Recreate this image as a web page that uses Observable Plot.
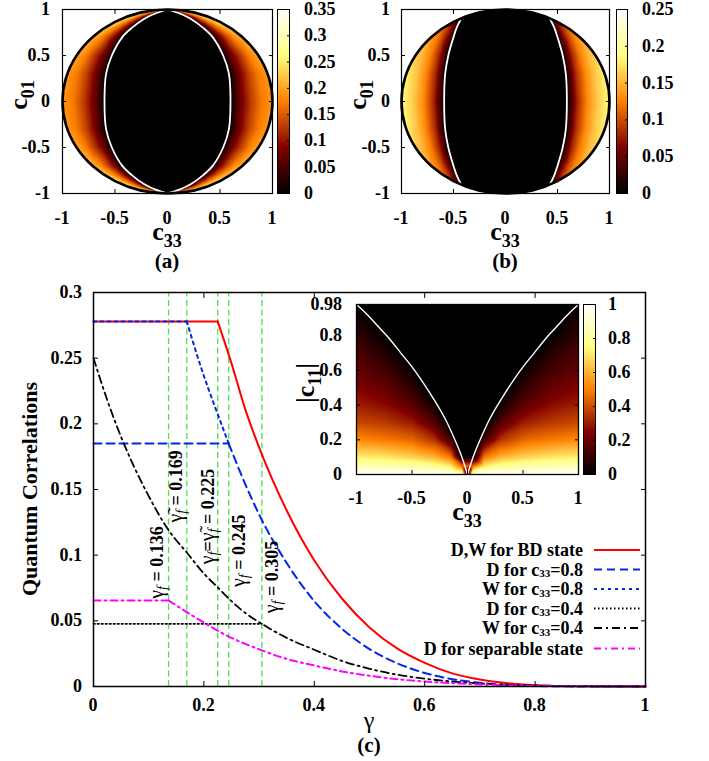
<!DOCTYPE html>
<html>
<head>
<meta charset="utf-8">
<script src="https://cdn.jsdelivr.net/npm/d3@7"></script>
<script src="https://cdn.jsdelivr.net/npm/@observablehq/plot@0.6"></script>
<style>
  html, body { margin: 0; padding: 0; background: #fff; }
  #root { position: relative; width: 709px; height: 761px; background: #fff; overflow: hidden; }
  #root > svg { position: absolute; }
</style>
</head>
<body>
<div id="root"></div>
<script>
// ================= DATA =================
// Panel (c): quantum correlations vs gamma, pairs [gamma, value]
const dwBD = [[0,0.278],[0.225,0.278],[0.25,0.246],[0.275,0.211],[0.3,0.182],[0.35,0.134],[0.4,0.096],[0.45,0.067],[0.5,0.045],[0.55,0.029],[0.6,0.018],[0.65,0.010],[0.7,0.0053],[0.75,0.0025],[0.8,0.001],[0.85,0.0003],[0.9,0.0001],[1,0]];
const dC08 = [[0,0.185],[0.245,0.185],[0.275,0.154],[0.3,0.131],[0.35,0.094],[0.4,0.065],[0.45,0.044],[0.5,0.0285],[0.55,0.0177],[0.6,0.0103],[0.65,0.0056],[0.7,0.0028],[0.75,0.0012],[0.8,0.0004],[0.9,0.00002],[1,0]];
const wC08 = [[0,0.278],[0.169,0.278],[0.194,0.244],[0.22,0.213],[0.245,0.185]];
const dC04 = [[0,0.0477],[0.305,0.0477]];
const wC04 = [[0,0.25],[0.025,0.218],[0.05,0.19],[0.075,0.166],[0.1,0.145],[0.136,0.119],[0.169,0.102],[0.2,0.086],[0.225,0.0755],[0.245,0.067],[0.275,0.056],[0.305,0.0477],[0.35,0.037],[0.4,0.028],[0.45,0.0195],[0.5,0.0135],[0.55,0.009],[0.6,0.006],[0.65,0.0038],[0.7,0.0023],[0.8,0.0008],[0.9,0.0002],[1,0]];
const dSep = [[0,0.0655],[0.136,0.0655],[0.15,0.0617],[0.169,0.0566],[0.2,0.0487],[0.225,0.0425],[0.25,0.037],[0.275,0.0325],[0.305,0.0275],[0.35,0.021],[0.4,0.016],[0.45,0.0115],[0.5,0.0082],[0.55,0.0056],[0.6,0.0038],[0.7,0.0016],[0.8,0.0005],[0.9,0.0001],[1,0]];
const gammaF = [0.136, 0.169, 0.225, 0.245, 0.305];
const gammaFForm = ["plain", "tilde", "both", "plain", "plain"];
const xTicksC = [0, 0.2, 0.4, 0.6, 0.8, 1];
const yTicksC = [0, 0.05, 0.1, 0.15, 0.2, 0.25, 0.3];
const legendLabels = [
  [["D,W for BD state"]],
  [["D for c"], ["33", "sub"], ["=0.8"]],
  [["W for c"], ["33", "sub"], ["=0.8"]],
  [["D for c"], ["33", "sub"], ["=0.4"]],
  [["W for c"], ["33", "sub"], ["=0.4"]],
  [["D for separable state"]]
];

// Panel (a): rows of c01, sample c33 positions (white boundary -> rim) and values
const aRowC01 = [0, 0.3, 0.5, 0.7, 0.8, 0.9, 0.95, 0.98];
const aRowC33 = [
  [0.6, 0.7, 0.8, 0.9, 1.0],
  [0.585, 0.68, 0.77, 0.86, 0.954],
  [0.53, 0.61, 0.70, 0.78, 0.866],
  [0.43, 0.50, 0.57, 0.64, 0.714],
  [0.34, 0.405, 0.47, 0.535, 0.6],
  [0.22, 0.274, 0.328, 0.382, 0.436],
  [0.13, 0.175, 0.221, 0.266, 0.312],
  [0.06, 0.095, 0.13, 0.165, 0.199]
];
const aRowVal = [
  [0, 0.075, 0.13, 0.17, 0.19],
  [0, 0.075, 0.13, 0.17, 0.19],
  [0, 0.075, 0.13, 0.175, 0.2],
  [0, 0.08, 0.14, 0.185, 0.21],
  [0, 0.09, 0.155, 0.2, 0.23],
  [0, 0.1, 0.17, 0.22, 0.25],
  [0, 0.11, 0.18, 0.23, 0.265],
  [0, 0.12, 0.2, 0.25, 0.28]
];
const aZeros = [[0, 1], [0, 0], [0, 0.5]];
const aBarTicks = [0, 0.05, 0.1, 0.15, 0.2, 0.25, 0.3, 0.35];

// Panel (b)
const bRowC01 = [0, 0.3, 0.5, 0.7, 0.8, 0.905];
const bRowC33 = [
  [0.59, 0.69, 0.79, 0.9, 1.0],
  [0.58, 0.67, 0.77, 0.86, 0.954],
  [0.55, 0.63, 0.71, 0.79, 0.866],
  [0.5, 0.55, 0.61, 0.66, 0.714],
  [0.47, 0.5, 0.535, 0.57, 0.6],
  [0.425]
];
const bRowVal = [
  [0, 0.08, 0.13, 0.165, 0.185],
  [0, 0.08, 0.13, 0.16, 0.18],
  [0, 0.075, 0.12, 0.15, 0.165],
  [0, 0.06, 0.1, 0.125, 0.14],
  [0, 0.05, 0.08, 0.1, 0.115],
  [0]
];
const bZeros = [[0, 1], [0, 0], [0, 0.6], [0.2, 0.98], [0.3, 0.95]];
const bBarTicks = [0, 0.05, 0.1, 0.15, 0.2, 0.25];

// Rim of the allowed region (c33^2 + c01^2 = 1), upper half
const rimC33 = [-1, -0.966, -0.866, -0.707, -0.5, -0.259, 0, 0.259, 0.5, 0.707, 0.866, 0.966, 1];
const rimC01 = [0, 0.259, 0.5, 0.707, 0.866, 0.966, 1, 0.966, 0.866, 0.707, 0.5, 0.259, 0];
const pmTicks = [-1, -0.5, 0, 0.5, 1];

// Inset: |c11| vs c33
const insetC33 = [0.05, 0.15, 0.3, 0.5, 0.75, 1];
const insetC11 = [0, 0.05, 0.1, 0.2, 0.3, 0.4, 0.5, 0.6, 0.7, 0.8, 0.9, 0.98];
const insetVals = [
  [0.95, 0.45],
  [1, 0.7, 0.48, 0.13],
  [1, 0.78, 0.6, 0.35, 0.16, 0.03],
  [1, 0.82, 0.66, 0.45, 0.3, 0.18, 0.09, 0.02],
  [1, 0.84, 0.7, 0.49, 0.36, 0.27, 0.2, 0.13, 0.07, 0.01],
  [1, 0.85, 0.72, 0.52, 0.39, 0.31, 0.25, 0.2, 0.15, 0.1, 0.05, 0]
];
const insetBoundary = [[0,0],[0.05,0.1],[0.1,0.18],[0.2,0.32],[0.3,0.43],[0.4,0.53],[0.5,0.62],[0.6,0.7],[0.7,0.78],[0.8,0.85],[0.9,0.92],[1,0.98]];
const insetZeros = [[0, 0.5], [0, 0.98], [0.5, 0.98]];
const insetYTicks = [0, 0.2, 0.4, 0.6, 0.8, 0.98];
const insetBarTicks = [0, 0.2, 0.4, 0.6, 0.8, 1];

// ================= RENDERING =================
const FONT = "'Liberation Serif','Times New Roman',serif";
const STYLE = {fontFamily: FONT, fontSize: "18px", background: "transparent", color: "black", overflow: "visible"};
const HOT = ["#000000", "#800000", "#ff8000", "#ffff80", "#ffffff"];
const hot = (m) => ({type: "linear", domain: [0, m / 4, m / 2, 3 * m / 4, m], range: HOT, clamp: true});
const root = document.getElementById("root");

// text overlay (bold serif texts, sub/superscripts)
const ov = d3.create("svg").attr("width", 709).attr("height", 761)
  .style("left", "0px").style("top", "0px").style("pointer-events", "none")
  .attr("font-family", FONT);
function rich(x, y, rot, parts, anchor = "middle") {
  const t = ov.append("text").attr("transform", `translate(${x},${y}) rotate(${rot})`)
    .attr("text-anchor", anchor).attr("fill", "black");
  let cur = 0;
  for (const p of parts) {
    const sh = p.sh || 0;
    t.append("tspan").attr("dy", sh - cur).attr("font-size", p.s)
      .attr("font-weight", p.w || "bold").attr("font-style", p.i ? "italic" : "normal").text(p.t);
    cur = sh;
  }
  return t;
}
function place(svg, left, top) {
  svg.style.left = left + "px"; svg.style.top = top + "px";
  root.appendChild(svg); return svg;
}
// tick labels positioned through each plot's own scales
function xLabels(plot, left, top, ticks, pad) {
  const sx = plot.scale("x"), sy = plot.scale("y");
  const bottom = Math.max(...sy.range);
  ticks.forEach(t => rich(left + sx.apply(t), top + bottom + pad, 0, [{t: String(t), s: 18}]));
}
function yLabels(plot, left, top, ticks, pad, side) {
  const sx = plot.scale("x"), sy = plot.scale("y");
  const edge = side === "left" ? Math.min(...sx.range) - pad : Math.max(...sx.range) + pad;
  ticks.forEach(t => rich(left + edge, top + sy.apply(t) + 6, 0, [{t: String(t), s: 18}], side === "left" ? "end" : "start"));
}

function mirror(list) {
  const out = [];
  for (const [c33, c01, v] of list)
    for (const sx of c33 === 0 ? [1] : [1, -1])
      for (const sy of c01 === 0 ? [1] : [1, -1])
        out.push({c33: sx * c33, c01: sy * c01, v});
  return out;
}
function fieldPoints(rowC01, rowC33, rowVal, zeros) {
  const list = [];
  rowC01.forEach((c01, i) => rowC33[i].forEach((c33, j) => list.push([c33, c01, rowVal[i][j]])));
  zeros.forEach(([c33, c01]) => list.push([c33, c01, 0]));
  return mirror(list);
}
function boundaryPath(rowC01, rowC33, tips) {
  const out = [];
  for (const side of [1, -1]) {
    const seq = [];
    if (tips) seq.push([0, 1]);
    for (let i = rowC01.length - 1; i >= 0; --i) seq.push([rowC33[i][0], rowC01[i]]);
    for (let i = 1; i < rowC01.length; ++i) seq.push([rowC33[i][0], -rowC01[i]]);
    if (tips) seq.push([0, -1]);
    seq.forEach(([c33, c01]) => out.push({c33: side * c33, c01, side}));
  }
  return out;
}
const rimUpper = rimC33.map((c, i) => ({c33: c, c01: rimC01[i]}));
const rimLower = rimUpper.map(d => ({c33: d.c33, c01: -d.c01}));
const rimLoop = [...rimUpper, ...rimLower.slice(1, -1).reverse()];

const noText = () => "";
function inwardTicks(xt, yt, len) {
  return [
    Plot.axisX(xt, {anchor: "bottom", tickSize: -len, tickFormat: noText, label: null}),
    Plot.axisX(xt, {anchor: "top", tickSize: -len, tickFormat: noText, label: null}),
    Plot.axisY(yt, {anchor: "left", tickSize: -len, tickFormat: noText, label: null}),
    Plot.axisY(yt, {anchor: "right", tickSize: -len, tickFormat: noText, label: null})
  ];
}

function topPanel(pts, bnd, max, ml, mr) {
  return Plot.plot({
    width: 300, height: 280, marginLeft: ml, marginRight: mr, marginTop: 9, marginBottom: 87,
    x: {domain: [-1, 1]}, y: {domain: [-1, 1]}, color: hot(max), style: STYLE,
    marks: [
      Plot.raster(pts, {x: "c33", y: "c01", fill: "v", interpolate: "barycentric", x1: -1, x2: 1, y1: -1, y2: 1}),
      Plot.areaY(rimUpper, {x: "c33", y1: "c01", y2: 1, fill: "white", curve: "catmull-rom"}),
      Plot.areaY(rimLower, {x: "c33", y1: -1, y2: "c01", fill: "white", curve: "catmull-rom"}),
      Plot.line(bnd, {x: "c33", y: "c01", z: "side", stroke: "white", strokeWidth: 1.8, curve: "catmull-rom"}),
      Plot.line(rimLoop, {x: "c33", y: "c01", stroke: "black", strokeWidth: 2.6, curve: "catmull-rom-closed"}),
      Plot.frame({stroke: "black", strokeWidth: 1.2}),
      ...inwardTicks(pmTicks, pmTicks, 4)
    ]
  });
}
function colorBar(max, ticks, h, ml, mr, mt, mb) {
  return Plot.plot({
    width: 80, height: h, marginLeft: ml, marginRight: mr, marginTop: mt, marginBottom: mb,
    x: {domain: [0, 1], axis: null}, y: {domain: [0, max]}, color: hot(max), style: STYLE,
    marks: [
      Plot.raster({fill: (x, y) => y, x1: 0, x2: 1, y1: 0, y2: max}),
      Plot.frame({stroke: "black", strokeWidth: 1}),
      Plot.axisY(ticks, {anchor: "right", tickSize: -3, tickFormat: noText, label: null})
    ]
  });
}

// (a) and (b)
const pa = place(topPanel(fieldPoints(aRowC01, aRowC33, aRowVal, aZeros), boundaryPath(aRowC01, aRowC33, true), 0.35, 62, 28), 0, 0);
xLabels(pa, 0, 0, pmTicks, 31); yLabels(pa, 0, 0, pmTicks, 12, "left");
const ca = place(colorBar(0.35, aBarTicks, 280, 7, 61, 9, 87), 270, 0);
yLabels(ca, 270, 0, aBarTicks, 15, "right");
const pb = place(topPanel(fieldPoints(bRowC01, bRowC33, bRowVal, bZeros), boundaryPath(bRowC01, bRowC33, false), 0.25, 71, 21), 330, 0);
xLabels(pb, 330, 0, pmTicks, 31); yLabels(pb, 330, 0, pmTicks, 11, "left");
const cb = place(colorBar(0.25, bBarTicks, 280, 6, 63, 9, 87), 610, 0);
yLabels(cb, 610, 0, bBarTicks, 15, "right");

// (c) main
const X = d => d[0], Y = d => d[1];
function series(arr, flatEnd, opts) {
  const m = [];
  if (flatEnd > 0) m.push(Plot.line(arr.slice(0, flatEnd + 1), {x: X, y: Y, ...opts}));
  if (arr.length - flatEnd > 1) m.push(Plot.line(arr.slice(flatEnd), {x: X, y: Y, curve: "monotone-x", ...opts}));
  return m;
}
const S = {
  red: {stroke: "#ff0000", strokeWidth: 2},
  bdash: {stroke: "#0028e6", strokeWidth: 2, strokeDasharray: "8,5"},
  bdot: {stroke: "#0028e6", strokeWidth: 2, strokeDasharray: "3,4"},
  kdot: {stroke: "#000000", strokeWidth: 1.8, strokeDasharray: "1.5,2.5"},
  kdd: {stroke: "#000000", strokeWidth: 1.8, strokeDasharray: "8,4,2,4"},
  mag: {stroke: "#ff00ff", strokeWidth: 2, strokeDasharray: "7,4,2,4"}
};
const GREEN = "#4fe04f";
const main = place(Plot.plot({
  width: 709, height: 481, marginLeft: 93, marginRight: 64, marginTop: 12, marginBottom: 75,
  x: {domain: [0, 1]}, y: {domain: [0, 0.3]}, style: STYLE,
  marks: [
    Plot.ruleX(gammaF, {x: d => d, y1: 0, y2: 0.3, stroke: GREEN, strokeWidth: 1.3, strokeDasharray: "6,3.5"}),
    ...series(dwBD, 1, S.red),
    ...series(dC08, 1, S.bdash),
    ...series(wC08, 1, S.bdot),
    ...series(dC04, 1, S.kdot),
    ...series(wC04, 0, S.kdd),
    ...series(dSep, 1, S.mag),
    Plot.frame({stroke: "black", strokeWidth: 1.5}),
    ...inwardTicks(xTicksC, yTicksC, 5)
  ]
}), 0, 280);
xLabels(main, 0, 280, xTicksC, 25); yLabels(main, 0, 280, yTicksC, 11, "left");

// inset
const insetPts = (() => {
  const list = [];
  insetC33.forEach((c, i) => insetVals[i].forEach((v, j) => list.push([c, insetC11[j], v])));
  insetBoundary.forEach(([c, k]) => list.push([c, k, 0]));
  insetZeros.forEach(([c, k]) => list.push([c, k, 0]));
  const out = [];
  for (const [c, k, v] of list) for (const s of c === 0 ? [1] : [1, -1]) out.push({c33: s * c, c11: k, v});
  return out;
})();
const insetLine = [];
for (const side of [1, -1]) insetBoundary.forEach(([c, k]) => insetLine.push({c33: side * c, c11: k, side}));
const ins = place(Plot.plot({
  width: 330, height: 250, marginLeft: 76, marginRight: 32, marginTop: 14, marginBottom: 66,
  x: {domain: [-1, 1]}, y: {domain: [0, 0.98]}, color: hot(1), style: STYLE,
  marks: [
    Plot.raster(insetPts, {x: "c33", y: "c11", fill: "v", interpolate: "barycentric", x1: -1, x2: 1, y1: 0, y2: 0.98}),
    Plot.line(insetLine, {x: "c33", y: "c11", z: "side", stroke: "white", strokeWidth: 1.4, curve: "catmull-rom"}),
    Plot.frame({stroke: "black", strokeWidth: 1.3}),
    ...inwardTicks(pmTicks, insetYTicks, 4)
  ]
}), 280, 290);
xLabels(ins, 280, 290, pmTicks, 30); yLabels(ins, 280, 290, insetYTicks, 14, "left");
const ci = place(colorBar(1, insetBarTicks, 250, 8, 60, 14, 66), 575, 290);
yLabels(ci, 575, 290, insetBarTicks, 13, "right");

// ---------- titles, annotations, legend ----------
const cSub = (sub) => [{t: "c", s: 26}, {t: sub, s: 18, sh: 7}];
rich(27, 95, -90, cSub("01"));
rich(167, 240, 0, cSub("33"));
rich(167, 268, 0, [{t: "(a)", s: 21}]);
rich(366, 95, -90, cSub("01"));
rich(505, 240, 0, cSub("33"));
rich(505, 268, 0, [{t: "(b)", s: 21}]);
rich(37, 489, -90, [{t: "Quantum Correlations", s: 22}]);
rich(369, 728, 0, [{t: "γ", s: 24, w: "normal"}]);
rich(369, 752, 0, [{t: "(c)", s: 21}]);
rich(314, 383, -90, [{t: "|c", s: 26}, {t: "11", s: 18, sh: 7}, {t: "|", s: 26, sh: 0}]);
rich(467, 520, 0, cSub("33"));

// gamma_f annotations (placed with the main plot's scales)
const sx = main.scale("x"), sy = main.scale("y");
const annDx = [-11, -10, -9, 11, 11];
const annAt = [0.094, 0.152, 0.129, 0.103, 0.083];
const G = (tilde) => ({t: tilde ? "γ\u0303" : "γ", s: 20, w: "normal"});
const F = {t: "f", s: 14, w: "normal", i: true, sh: 4};
gammaF.forEach((g, i) => {
  const tail = {t: " = " + String(g), s: 18, sh: 0};
  let parts;
  if (gammaFForm[i] === "plain") parts = [G(false), F, tail];
  else if (gammaFForm[i] === "tilde") parts = [G(true), F, tail];
  else parts = [G(false), F, {t: "=", s: 18, sh: 0}, G(true), F, tail];
  rich(sx.apply(g) + annDx[i] + 6, 280 + sy.apply(annAt[i]), -90, parts);
});

// legend
const legendStyles = [S.red, S.bdash, S.bdot, S.kdot, S.kdd, S.mag];
const legendRowY = [550, 569.5, 589, 608.5, 628, 648.5];
legendLabels.forEach((lab, i) => {
  const parts = lab.map(([t, kind]) => kind === "sub" ? {t, s: 11, sh: 1.5} : {t, s: 18, sh: 0});
  rich(583, legendRowY[i] + 6, 0, parts, "end");
  const st = legendStyles[i];
  ov.append("line").attr("x1", 594).attr("x2", 640).attr("y1", legendRowY[i]).attr("y2", legendRowY[i])
    .attr("stroke", st.stroke).attr("stroke-width", st.strokeWidth)
    .attr("stroke-dasharray", st.strokeDasharray || null);
});
root.appendChild(ov.node());
</script>
</body>
</html>
